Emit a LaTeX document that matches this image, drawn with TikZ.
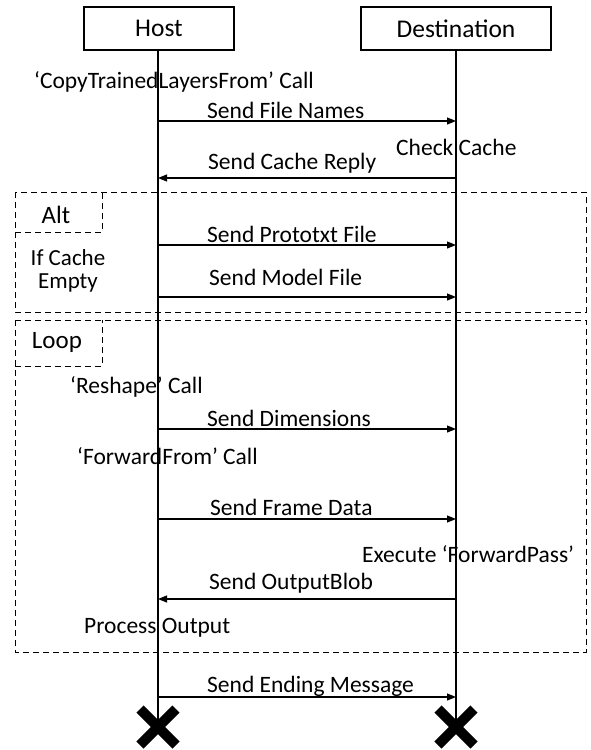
\documentclass[tikz,border=0pt]{standalone}
\usepackage{fontspec}
\setmainfont{Carlito}
\usetikzlibrary{arrows.meta,calc}
\begin{document}
\begin{tikzpicture}[x=1pt,y=-1pt,
  actor/.style={draw,line width=1.1pt,minimum height=43pt,inner sep=0pt,font=\fontsize{25.5}{28}\selectfont},
  life/.style={line width=1.1pt},
  msg/.style={line width=1.1pt,-{Triangle[length=9pt,width=7pt]}},
  lbl/.style={inner sep=0pt,anchor=west,font=\fontsize{23.5}{27}\selectfont},
  frame/.style={draw,line width=1pt,dash pattern=on 6pt off 4pt},
  xmark/.style={line width=10pt},
  ]
\useasboundingbox (0,0) rectangle (590,750);
% actors
\node[actor,minimum width=150pt] (host) at (159,28.5) {Host};
\node[actor,minimum width=190pt] (dest) at (456,28.5) {Destination};
% end marks
\coordinate (hx) at (158,727);
\coordinate (dx) at (456,727);
\draw[life] (host.south -| hx) -- (hx);
\draw[life] (dest.south -| dx) -- (dx);
\draw[xmark] ($(hx)+(-18,-18)$) -- ($(hx)+(18,18)$);
\draw[xmark] ($(hx)+(-18,18)$) -- ($(hx)+(18,-18)$);
\draw[xmark] ($(dx)+(-18,-18)$) -- ($(dx)+(18,18)$);
\draw[xmark] ($(dx)+(-18,18)$) -- ($(dx)+(18,-18)$);
% frames
\draw[frame] (15,192) rectangle (586,312);
\draw[frame] (15,232) -| (102,192);
\node[inner sep=0pt,font=\fontsize{25}{28}\selectfont] (alt) at (56,215) {Alt};
\draw[frame] (15,320) rectangle (586,652);
\draw[frame] (15,366) -| (102,320);
\node[inner sep=0pt,font=\fontsize{25}{28}\selectfont] (loop) at (57,342) {Loop};
% messages
\coordinate (h1) at (158,121); \coordinate (d1) at (456,121);
\coordinate (h2) at (158,178); \coordinate (d2) at (456,178);
\coordinate (h3) at (158,245); \coordinate (d3) at (456,245);
\coordinate (h4) at (158,297); \coordinate (d4) at (456,297);
\coordinate (h5) at (158,429); \coordinate (d5) at (456,429);
\coordinate (h6) at (158,519); \coordinate (d6) at (456,519);
\coordinate (h7) at (158,599); \coordinate (d7) at (456,599);
\coordinate (h8) at (158,697); \coordinate (d8) at (456,697);
\draw[msg] (h1) -- (d1);
\draw[msg] (d2) -- (h2);
\draw[msg] (h3) -- (d3);
\draw[msg] (h4) -- (d4);
\draw[msg] (h5) -- (d5);
\draw[msg] (h6) -- (d6);
\draw[msg] (d7) -- (h7);
\draw[msg] (h8) -- (d8);
% labels
\node[lbl] (t0) at (34,82) {‘CopyTrainedLayersFrom’ Call};
\node[lbl] (t1) at (207,110) {Send File Names};
\node[lbl] (t2) at (396,147) {Check Cache};
\node[lbl] (t3) at (208,163) {Send Cache Reply};
\node[lbl] (t4) at (207,234) {Send Prototxt File};
\node[inner sep=0pt,align=center,font=\fontsize{23}{23.5}\selectfont] (ifc) at (68,271) {If Cache\\Empty};
\node[lbl] (t5) at (209,277) {Send Model File};
\node[lbl] (t6) at (70,387) {‘Reshape’ Call};
\node[lbl] (t7) at (207,418) {Send Dimensions};
\node[lbl] (t8) at (77,456) {‘ForwardFrom’ Call};
\node[lbl] (t9) at (210,507) {Send Frame Data};
\node[lbl] (t10) at (362,554) {Execute ‘ForwardPass’};
\node[lbl] (t11) at (209,583) {Send OutputBlob};
\node[lbl] (t12) at (84,628) {Process Output};
\node[lbl] (t13) at (207,686) {Send Ending Message};
\end{tikzpicture}
\end{document}
